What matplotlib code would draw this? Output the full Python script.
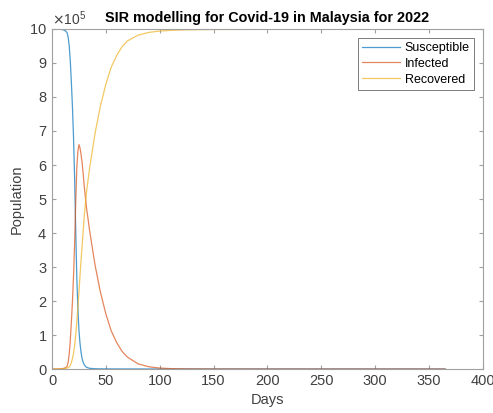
import numpy as np
from matplotlib import pyplot as plt
from matplotlib.ticker import ScalarFormatter

plt.rcParams['font.family'] = ['Liberation Sans', 'DejaVu Sans']

# values, population in units of 1e5
days = [0, 4, 8, 10, 11, 12, 13, 14, 15, 16, 17, 18, 19, 20, 21, 22, 23, 24,
        25, 26, 27, 28, 29, 30, 32, 35, 40, 45, 50, 55, 60, 65, 70, 80, 90,
        100, 110, 125, 150, 200, 250, 300, 365]
susceptible = [9.9999, 9.999, 9.992, 9.98, 9.97, 9.95, 9.93, 9.89, 9.76, 9.49,
               9.04, 8.41, 7.69, 6.78, 5.60, 4.10, 2.72, 1.79, 1.14, 0.75,
               0.48, 0.30, 0.19, 0.12, 0.05, 0.02, 0.008, 0.005, 0.004, 0.003,
               0.003, 0.002, 0.002, 0.002, 0.001, 0.001, 0.001, 0.001, 0.001,
               0.001, 0.001, 0.001, 0.001]
infected = [0.0001, 0.001, 0.006, 0.015, 0.02, 0.03, 0.05, 0.08, 0.2, 0.45,
            0.85, 1.4, 2.0, 2.75, 3.7, 4.9, 5.9, 6.4, 6.6, 6.5, 6.3, 6.05,
            5.72, 5.35, 4.75, 4.05, 3.05, 2.25, 1.62, 1.12, 0.78, 0.52, 0.35,
            0.15, 0.065, 0.028, 0.012, 0.004, 0.001, 0.0, 0.0, 0.0, 0.0]
recovered = [0.0, 0.0003, 0.002, 0.006, 0.01, 0.02, 0.02, 0.03, 0.04, 0.06,
             0.11, 0.19, 0.31, 0.47, 0.70, 1.00, 1.38, 1.81, 2.26, 2.75,
             3.22, 3.65, 4.09, 4.53, 5.20, 5.93, 6.94, 7.74, 8.38, 8.88,
             9.22, 9.48, 9.65, 9.82, 9.90, 9.94, 9.96, 9.975, 9.985, 9.99,
             9.993, 9.995, 9.995]
scale = 1e5

d = np.array(days)
fig = plt.figure(figsize=(4.93, 4.13), dpi=100)
ax = fig.add_axes([0.1055, 0.1065, 0.874, 0.8233])

ax.plot(d, np.array(susceptible) * scale, color=(0, 0.447, 0.741), lw=0.9, alpha=0.7, label='Susceptible')
ax.plot(d, np.array(infected) * scale, color=(0.85, 0.325, 0.098), lw=0.9, alpha=0.7, label='Infected')
ax.plot(d, np.array(recovered) * scale, color=(0.929, 0.694, 0.125), lw=0.9, alpha=0.7, label='Recovered')

ax.set_xlim(0, 400)
ax.set_ylim(0, 10 * scale)
ax.set_xticks(np.arange(0, 401, 50))
ax.set_yticks(np.arange(0, 11) * scale)
fmt = ScalarFormatter(useMathText=True)
fmt.set_powerlimits((5, 5))
ax.yaxis.set_major_formatter(fmt)
ax.yaxis.get_offset_text().set_fontsize(10)
ax.yaxis.get_offset_text().set_color('#808080')

grey = '#a0a0a0'
for s in ax.spines.values():
    s.set_color(grey)
ax.tick_params(direction='in', length=3, colors=grey, labelcolor='#404040',
               labelsize=10.5, top=True, right=True)

ax.set_title('SIR modelling for Covid-19 in Malaysia for 2022', fontsize=10.4,
             fontweight='bold', pad=5)
ax.set_xlabel('Days', fontsize=10.5, color='#404040')
ax.set_ylabel('Population', fontsize=10.5, color='#404040')

leg = ax.legend(loc='upper right', fontsize=9, fancybox=False, handlelength=3.0,
                borderaxespad=0.7, borderpad=0.35, labelspacing=0.3, handletextpad=0.4)
leg.get_frame().set_edgecolor('#404040')
leg.get_frame().set_linewidth(0.6)

fig.savefig('out.png', dpi=100)
